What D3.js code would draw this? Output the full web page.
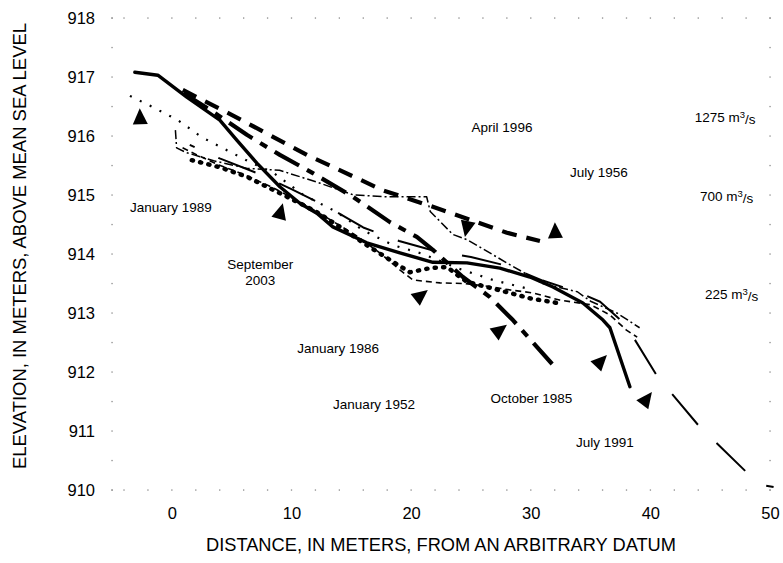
<!DOCTYPE html>
<html><head><meta charset="utf-8">
<script src="https://cdn.jsdelivr.net/npm/d3@7"></script>
<style>
body{margin:0;background:#fff}
svg{display:block}
text{font-family:"Liberation Sans",Arial,sans-serif;fill:#000}
</style>
</head><body>
<svg id="chart" width="783" height="563"></svg>
<script>
// ---------------- data ----------------
const xTicks = [0, 10, 20, 30, 40, 50];
const yTicks = [910, 911, 912, 913, 914, 915, 916, 917, 918];

// water-surface profiles: [distance m, elevation m]
const oct1985 = [[-3.09,917.08],[-1.17,917.03],[1.25,916.66],[4.01,916.27],[5.43,915.93],[7.11,915.54],[9.03,915.14],[10.70,914.86],[12.12,914.69],[13.46,914.46],[16.30,914.19],[19.06,914.02],[21.82,913.86],[24.67,913.85],[27.42,913.76],[29.93,913.61],[31.86,913.44],[34.36,913.17],[36.04,912.88],[36.62,912.75],[38.29,911.75]];
const apr1996 = [[0.92,916.78],[5.0,916.36],[11.29,915.68],[17.64,915.08],[21.82,914.80],[28.01,914.36],[30.77,914.22]];
const jan1952 = [[1.0,916.72],[3.60,916.39],[6.27,916.02],[9.03,915.68],[11.79,915.37],[15.13,914.97],[18.23,914.54],[20.48,914.29],[21.82,914.07],[24.33,913.61],[26.59,913.27],[28.51,912.88],[31.86,912.12]];
const sep2003 = [[1.67,915.59],[4.01,915.47],[6.27,915.31],[7.94,915.14],[10.12,914.92],[12.12,914.71],[14.05,914.46],[16.30,914.15],[18.23,913.90],[19.90,913.69],[21.57,913.76],[23.0,913.78],[24.08,913.61],[24.67,913.53],[26.34,913.44],[28.26,913.34],[29.93,913.25],[32.19,913.17]];
const jan1989 = [[-3.5,916.68],[-1.6,916.49],[0.5,916.27],[2.5,915.98],[4.6,915.76],[6.7,915.54],[8.4,915.39],[11.0,915.0],[13.8,914.71],[16.0,914.4],[18.5,914.15],[21.0,914.0],[24.0,913.75],[27.0,913.55],[30.0,913.4]];
const jan1986 = [[0.9,915.8],[2.1,915.68],[3.8,915.52],[6.0,915.35],[8.5,915.12],[11.0,914.85],[13.5,914.55],[15.5,914.3],[17.5,914.0],[19.06,913.73],[20.15,913.56],[22.41,913.51],[24.5,913.5],[26.5,913.45],[28.3,913.39],[30.2,913.34],[32.4,913.22],[35.0,913.14],[36.6,912.97],[38.0,912.71],[38.9,912.59]];
const jul1956 = [[0.3,916.1],[0.4,915.8],[1.2,915.72],[3.5,915.58],[6.3,915.45],[9.0,915.42],[12.4,915.2],[15.2,915.0],[18.0,914.97],[21.3,914.97],[21.6,914.72],[23.5,914.33],[24.7,914.24],[28.0,913.85],[31.0,913.5],[33.9,913.36],[35.0,913.2],[37.2,913.0],[39.1,912.75]];
const jul1991 = [[1.5,915.85],[4.0,915.62],[7.0,915.38],[10.0,915.1],[13.0,914.8],[16.0,914.45],[19.0,914.22],[22.0,914.05],[25.0,913.95],[28.0,913.8],[31.0,913.55],[34.0,913.35],[35.8,913.19],[37.5,912.88],[38.3,912.68],[40.6,911.92],[44.0,911.1],[48.1,910.29],[49.5,910.08],[50.3,910.05]];

// labels: [text, x, y, anchor]
const dateLabels = [
  ["January 1989", -0.08, 914.80, "middle"],
  ["September", 7.4, 913.83, "middle"],
  ["2003", 7.4, 913.56, "middle"],
  ["January 1986", 13.9, 912.41, "middle"],
  ["January 1952", 16.9, 911.46, "middle"],
  ["October 1985", 30.06, 911.56, "middle"],
  ["July 1991", 36.2, 910.81, "middle"],
  ["April 1996", 27.6, 916.14, "middle"],
  ["July 1956", 35.7, 915.39, "middle"]
];
const flowLabels = [["1275", 43.7, 916.31], ["700", 44.15, 914.97], ["225", 44.57, 913.32]];
// arrows: [tip x, tip y, direction deg]
const arrows = [[-2.68,916.47,-92],[9.28,914.86,-75],[21.40,913.39,-38],[28.01,912.80,-37],[36.37,912.29,-46],[40.13,911.66,-53],[24.50,914.29,102],[32.02,914.54,-92]];

// ---------------- chart ----------------
const svg = d3.select("#chart");
const x = d3.scaleLinear().domain([-5, 50]).range([112, 770]);
const y = d3.scaleLinear().domain([910, 918]).range([490, 18]);

// dotted frame
const frame = svg.append("g").attr("fill", "#8a8a8a");
const rowX = [-5].concat(d3.range(-4, 50.01, 2));
[910, 918].forEach(v => rowX.forEach(d => frame.append("rect").attr("x", x(d) - 0.6).attr("y", y(v) - 0.6).attr("width", 1.3).attr("height", 1.3)));
const colY = d3.range(910, 918.01, 0.5);
[-5, 50].forEach(v => colY.forEach(d => frame.append("rect").attr("x", x(v) - 0.6).attr("y", y(d) - 0.6).attr("width", 1.3).attr("height", 1.3)));

// axes (text only)
const yAxis = d3.axisLeft(y).tickValues(yTicks).tickSize(0).tickPadding(0);
const gy = svg.append("g").attr("transform", "translate(95,0)").call(yAxis);
gy.select(".domain").remove();
gy.selectAll("text").attr("font-size", 16.5).attr("font-family", '"Liberation Sans",Arial,sans-serif').attr("fill", "#000");

const xAxis = d3.axisBottom(x).tickValues(xTicks).tickSize(0).tickPadding(0);
const gx = svg.append("g").attr("transform", "translate(0,507)").call(xAxis);
gx.select(".domain").remove();
gx.selectAll("text").attr("font-size", 16.5).attr("font-family", '"Liberation Sans",Arial,sans-serif').attr("fill", "#000");

svg.append("text").attr("x", 441).attr("y", 551).attr("text-anchor", "middle").attr("font-size", 17.5)
  .attr("textLength", 470).attr("lengthAdjust", "spacingAndGlyphs")
  .text("DISTANCE, IN METERS, FROM AN ARBITRARY DATUM");
svg.append("text").attr("transform", "translate(26,246) rotate(-90)").attr("text-anchor", "middle").attr("font-size", 17.5)
  .attr("textLength", 446).attr("lengthAdjust", "spacingAndGlyphs")
  .text("ELEVATION, IN METERS, ABOVE MEAN SEA LEVEL");

// profiles
const line = d3.line().x(d => x(d[0])).y(d => y(d[1]));
const styles = [
  {d: jul1991, w: 2, dash: "40,26", cap: "butt", endDash: 7.5},
  {d: jan1989, w: 2.2, dash: "2,9", cap: "butt"},
  {d: jan1986, w: 1.6, dash: "6,4", cap: "butt"},
  {d: jul1956, w: 1.5, dash: "9,3,2,3", cap: "butt"},
  {d: sep2003, w: 4.5, dash: "1.2,7.3", cap: "round"},
  {d: jan1952, w: 4.2, dash: "28,9,8,9", cap: "butt"},
  {d: apr1996, w: 4.2, dash: "15,10", cap: "butt"},
  {d: oct1985, w: 3.4, dash: null, cap: "round"}
];
const gl = svg.append("g").attr("fill", "none").attr("stroke", "#000").attr("stroke-linejoin", "round");
styles.forEach(s => {
  const p = gl.append("path").attr("d", line(s.d)).attr("stroke-width", s.w).attr("stroke-linecap", s.cap);
  if (s.dash) {
    p.attr("stroke-dasharray", s.dash);
    if (s.endDash) {
      const L = p.node().getTotalLength();
      const per = s.dash.split(",").map(Number).reduce((a, b) => a + b, 0);
      const off = per - ((L - s.endDash) % per);
      p.attr("stroke-dashoffset", off);
    }
  }
});

// arrows
svg.append("g").selectAll("path").data(arrows).join("path")
  .attr("d", "M0,0 L-16,-7.5 L-16,7.5 Z")
  .attr("transform", d => `translate(${x(d[0])},${y(d[1])}) rotate(${d[2]})`)
  .attr("fill", "#000");

// labels
svg.append("g").selectAll("text").data(dateLabels).join("text")
  .attr("x", d => x(d[1])).attr("y", d => y(d[2])).attr("dy", "0.35em")
  .attr("text-anchor", d => d[3]).attr("font-size", 13.5).text(d => d[0]);

const fl = svg.append("g").selectAll("text").data(flowLabels).join("text")
  .attr("x", d => x(d[1])).attr("y", d => y(d[2])).attr("dy", "0.35em").attr("font-size", 13.5);
fl.append("tspan").text(d => d[0] + " m");
fl.append("tspan").attr("dy", "-0.45em").attr("font-size", 9.5).text("3");
fl.append("tspan").attr("dy", "0.45em").text("/s");
</script>
</body></html>
